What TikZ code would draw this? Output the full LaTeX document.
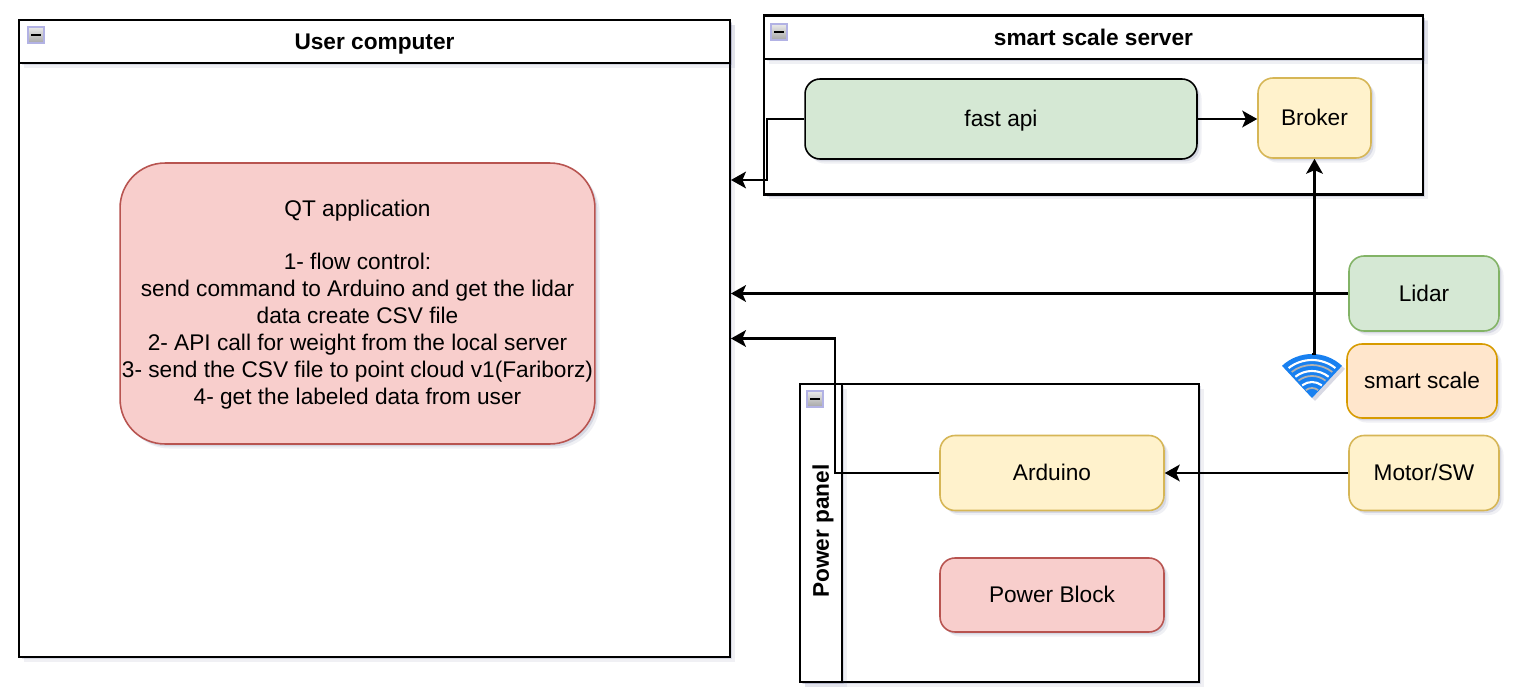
\documentclass[tikz,border=0pt]{standalone}
\usepackage{fontspec}
\setmainfont{Liberation Sans}
\usetikzlibrary{arrows.meta, calc, positioning, shadows}
\definecolor{shcolor}{RGB}{60,65,120}
\definecolor{wifiblue}{RGB}{24,128,240}
\definecolor{greenfill}{HTML}{D5E8D4}
\definecolor{greenline}{HTML}{82B366}
\definecolor{yellowfill}{HTML}{FFF2CC}
\definecolor{yellowline}{HTML}{D6B656}
\definecolor{redfill}{HTML}{F8CECC}
\definecolor{redline}{HTML}{B85450}
\definecolor{orangefill}{HTML}{FFE6CC}
\definecolor{orangeline}{HTML}{D79B00}
\begin{document}
\begin{tikzpicture}
    [
      x=0.02cm,
      y=0.02cm,
      every node/.style={font=\fontsize{12.9}{15.4}\selectfont},
      soft/.style={
        drop shadow={shadow xshift=2.6pt,shadow yshift=-2.6pt,fill=shcolor,opacity=0.08},
        drop shadow={shadow xshift=1.4pt,shadow yshift=-1.4pt,fill=shcolor,opacity=0.14}},
      oneline/.style={text height=9.5pt,text depth=0.5pt},
      lane/.style={rectangle,draw=black,fill=white,line width=1.2pt,soft,inner sep=0pt},
      head/.style={lane,oneline,font=\fontsize{12.9}{15.4}\selectfont\bfseries},
      item/.style={rectangle,rounded corners=0.3cm,line width=0.9pt,soft,inner sep=0pt},
      greenb/.style={item,oneline,draw=greenline,fill=greenfill},
      yellowb/.style={item,oneline,draw=yellowline,fill=yellowfill},
      redb/.style={item,oneline,draw=redline,fill=redfill},
      orangeb/.style={item,oneline,draw=orangeline,fill=orangefill},
      minbox/.style={rectangle,draw=black!35!blue!30!white,top color=black!8,bottom color=black!35,line width=0.7pt,minimum size=0.32cm,inner sep=0pt,
        path picture={\draw[black,line width=1pt] ([xshift=-2.6pt]path picture bounding box.center) -- ([xshift=2.6pt]path picture bounding box.center);}},
      flow/.style={draw=black,line width=1.2pt,-{Stealth[length=8.5pt,width=9.5pt,inset=2pt]}},
    ]
    \useasboundingbox (0,0) rectangle (1526,691);

    % user computer
    \node at (374.5, 352.5) [lane, minimum width=14.22cm, minimum height=12.74cm] (user) {};
    \node at (374.5, 649.5) [head, minimum width=14.22cm, minimum height=0.86cm] (userh) {User computer};
    \node at (36, 656) [minbox] (userm) {};
    \node at (357.5, 387.5) [item, draw=redline, fill=redfill, align=center, rounded corners=0.9cm, minimum width=9.5cm, minimum height=5.62cm] (qt)
      {\rule{0pt}{10.8pt}QT application\\[14.4pt]1- flow control:\\send command to Arduino and get the lidar\\data create CSV file\\2- API call for weight from the local server\\3- send the CSV file to point cloud v1(Fariborz)\\4- get the labeled data from user};

    % smart scale server
    \node at (1093.5, 586) [lane, minimum width=13.18cm, minimum height=3.58cm] (server) {};
    \node at (1093.5, 653.5) [head, minimum width=13.18cm, minimum height=0.86cm] (serverh) {smart scale server};
    \node at (779, 659) [minbox] (serverm) {};
    \node at (1001, 572) [greenb, draw=black, minimum width=7.84cm, minimum height=1.6cm] (fast) {fast api};
    \node at (1314.5, 573) [yellowb, minimum width=2.26cm, minimum height=1.6cm] (broker) {Broker};

    % power panel
    \node at (999.5, 158) [lane, minimum width=7.98cm, minimum height=5.96cm] (panel) {};
    \node at (821, 158) [head, minimum width=0.84cm, minimum height=5.96cm] (panelh) {};
    \node at (821, 160) [rotate=90, oneline, font=\fontsize{12.9}{15.4}\selectfont\bfseries, inner sep=0pt] (panelt) {Power panel};
    \node at (815, 292) [minbox] (panelm) {};
    \node at (1052, 218) [yellowb, minimum width=4.48cm, minimum height=1.5cm] (arduino) {Arduino};
    \node at (1052, 96) [redb, minimum width=4.48cm, minimum height=1.48cm] (block) {Power Block};

    % devices
    \node at (1424, 397.5) [greenb, minimum width=3cm, minimum height=1.5cm] (lidar) {Lidar};
    \node at (1422, 310) [orangeb, minimum width=3cm, minimum height=1.48cm] (scale) {smart scale};
    \node at (1424, 218) [yellowb, minimum width=3cm, minimum height=1.5cm] (motor) {Motor/SW};

    % wifi
    \coordinate (wifi) at (1312, 293);
    \coordinate (wifitop) at (1312, 337);
    \fill[shcolor, opacity=0.2] (1315,290) -- ++(47:44) arc (47:133:44) -- cycle;
    \fill[wifiblue] (wifi) -- ++(47:44) arc (47:133:44) -- cycle;
    \foreach \r/\c/\w in {38/white/1.2pt, 33/black!30/1pt, 27/white/1.2pt, 22/black!30/1pt, 16/white/1.2pt, 10/black!30/1pt}
      \draw[\c, line width=\w] ($(wifi)+(52:\r)$) arc (52:128:\r);

    % connectors
    \coordinate (fastin) at (731, 511);
    \draw[flow] (fast.west) -- (767, 572) -- (767, 511) -- (fastin);
    \draw[flow] (fast.east) -- (broker.west |- fast.east);
    \draw[flow] (wifitop) -- (wifitop -| broker.south) -- (broker.south);
    \draw[flow] (lidar.west) -- (user.east |- lidar.west);
    \draw[flow] (arduino.west) -- (835, 218) -- (835, 352.5) -- (user.east);
    \draw[flow] (motor.west) -- (arduino.east);
  \end{tikzpicture}
\end{document}
